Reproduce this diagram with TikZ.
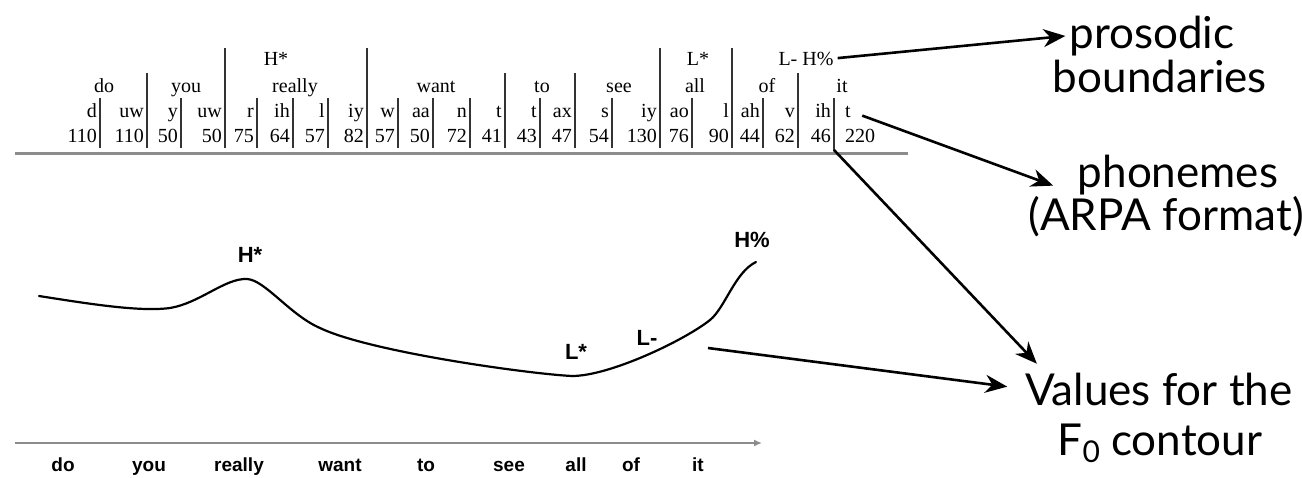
\documentclass[tikz,border=0pt]{standalone}
\usepackage{fontspec}
\setmainfont{Liberation Serif}
\newfontfamily\gillfont{Lato}
\newfontfamily\plotfont{Liberation Sans}
\usetikzlibrary{arrows.meta}

\begin{document}
\begin{tikzpicture}[x=1pt,y=-1pt,
    tb/.style={inner sep=0pt,font=\fontsize{20}{20}\selectfont},
    ph/.style={tb,anchor=base east},
    bar/.style={line width=1.6pt,black!80},
    wd/.style={inner sep=0pt,anchor=base,font=\plotfont\bfseries\fontsize{19}{19}\selectfont},
    tn/.style={wd,font=\plotfont\bfseries\fontsize{22}{22}\selectfont},
    big/.style={inner sep=0pt,anchor=base,font=\gillfont\fontsize{44}{44}\selectfont},
    arr/.style={line width=2.6pt,-{Stealth[length=22pt,width=18pt,inset=7pt]}}]
  \useasboundingbox (0,0) rectangle (1302,477);
  % tones over the words
  \node[tb,anchor=base] (hstar) at (276,65) {H*};
  \node[tb,anchor=base] (lstar) at (698,65) {L*};
  \node[tb,anchor=base] (lhpct) at (806,65) {L- H\%};
  \foreach \w/\x in {do/104,you/186,really/295,want/436,to/542,see/619,all/695,of/767,it/842}
    \node[tb,anchor=base] (w-\w) at (\x,92) {\w};
  % phonemes and durations, right-aligned against their bar
  \foreach \p/\d/\x [count=\i] in {d/110/100,uw/110/147,y/50/181,uw/50/225,r/75/257,ih/64/293,
      l/57/328,iy/82/367,w/57/398,aa/50/433,n/72/470,t/41/505,t/43/540,ax/47/575,s/54/612,
      iy/130/660,ao/76/692,l/90/732,ah/44/763,v/62/798,ih/46/834} {
    \node[ph] (p\i) at (\x-3,117) {\p};
    \node[ph] (d\i) at (\x-3,142) {\d};
  }
  \node[tb,anchor=base west] (p22) at (845,117) {t};
  \node[tb,anchor=base west] (d22) at (845,142) {220};
  % separators
  \foreach \x in {225,367,660,732} \draw[bar] (\x,48) -- (\x,148);
  \foreach \x in {147,505,575,798} \draw[bar] (\x,73) -- (\x,148);
  \foreach \x in {100,181,257,293,328,398,433,470,540,612,692,763} \draw[bar] (\x,98) -- (\x,148);
  \draw[bar] (834,98) -- (834,151);
  \draw[line width=3pt,black!45] (15,153) -- (908,153);
  \coordinate (tabend) at (834,150);

  % F0 contour
  \draw[line width=2.2pt,line cap=round] (39,296)
    .. controls (90,304) and (140,312) .. (170,308)
    .. controls (200,303) and (225,278) .. (247,279)
    .. controls (265,280) and (290,315) .. (320,328)
    .. controls (370,352) and (530,374) .. (572,376)
    .. controls (610,376) and (685,340) .. (710,320)
    .. controls (725,308) and (735,272) .. (756,262);
  \node[tn] (c-hstar) at (250,262) {H*};
  \node[tn] (c-lstar) at (576,359) {L*};
  \node[tn] (c-lminus) at (647,345) {L-};
  \node[tn] (c-hpct) at (752,247) {H\%};
  \coordinate (curveend) at (708,348);

  % time axis
  \draw[line width=2.6pt,black!45,-{Latex[length=8pt,width=7pt]}] (15,443) -- (762,443);
  \foreach \w/\x in {do/63,you/149,really/239,want/340,to/426,see/509,all/576,of/631,it/698}
    \node[wd] (a-\w) at (\x,471) {\w};

  % explanations
  \node[big] (pros1) at (1152,48) {prosodic};
  \node[big] (pros2) at (1160,92) {boundaries};
  \node[big] (phon1) at (1178,187) {phonemes};
  \node[big] (phon2) at (1166,230) {(ARPA format)};
  \node[big] (val1) at (1159,405) {Values for the};
  \node[big] (val2) at (1160,455) {F\raisebox{-7pt}{\fontsize{30}{30}\selectfont 0} contour};

  \draw[arr,shorten <=4pt,shorten >=4pt] (lhpct.east) -- (pros1.west);
  \draw[arr,shorten <=12pt,shorten >=26pt] (p22.east) -- ([yshift=-20pt]phon1.west);
  \draw[arr,shorten >=12pt] (tabend) -- ([xshift=20pt]val1.north west);
  \draw[arr,shorten >=18pt] (curveend) -- (val1.west);
\end{tikzpicture}
\end{document}
